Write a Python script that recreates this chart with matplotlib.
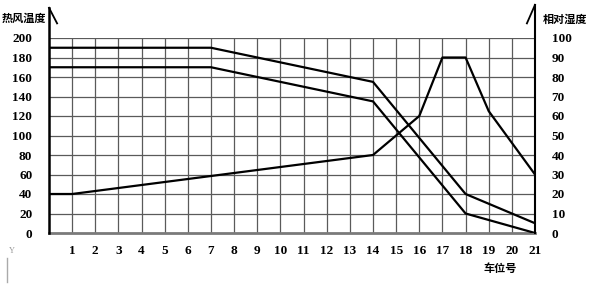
import matplotlib
matplotlib.use("Agg")
import matplotlib.pyplot as plt

plt.rcParams['font.family'] = ['Liberation Serif', 'Noto Sans CJK SC', 'DejaVu Sans']

# car positions and curve values
car_pos = list(range(1, 22))
hot_air_hi_x = [0, 7, 14, 18, 21]
hot_air_hi_y = [190, 190, 155, 40, 10]
hot_air_lo_x = [0, 7, 14, 18, 21]
hot_air_lo_y = [170, 170, 135, 20, 0]
humid_x = [0, 1, 14, 16, 17, 18, 19, 21]
humid_y = [20, 20, 40, 60, 90, 90, 62.5, 30]

temp_ticks = list(range(0, 201, 20))
humid_ticks = list(range(0, 101, 10))

fig = plt.figure(figsize=(6, 2.9), dpi=100)
ax = fig.add_axes([49 / 600, 1 - 233 / 290, (535 - 49) / 600, (233 - 38) / 290])
ax2 = ax.twinx()

grid_c = '#5a5a5a'
for v in temp_ticks[1:]:
    ax.axhline(v, color=grid_c, lw=0.9, zorder=1)
for v in car_pos[:-1]:
    ax.axvline(v, color=grid_c, lw=0.9, zorder=1)

ax.plot(hot_air_hi_x, hot_air_hi_y, color='black', lw=1.6, zorder=3)
ax.plot(hot_air_lo_x, hot_air_lo_y, color='black', lw=1.6, zorder=3)
ax2.plot(humid_x, humid_y, color='black', lw=1.6, zorder=3)

ax.set_xlim(0, 21)
ax.set_ylim(0, 200)
ax2.set_ylim(0, 100)

ax.set_xticks(car_pos)
ax.set_xticklabels([str(c) for c in car_pos], fontweight='bold')
ax.set_yticks(temp_ticks)
ax.set_yticklabels([str(t) for t in temp_ticks], fontweight='bold')
ax2.set_yticks(humid_ticks)
ax2.set_yticklabels([str(t) for t in humid_ticks], fontweight='bold')
ax.tick_params(axis='both', length=0, labelsize=9.5)
ax.tick_params(axis='y', pad=12)
ax.tick_params(axis='x', pad=9)
ax2.tick_params(axis='y', length=0, labelsize=9.5, pad=12)

for a in (ax, ax2):
    for s in ('top', 'left', 'right', 'bottom'):
        a.spines[s].set_visible(False)

# axis lines with the little slashes at the top
ax.plot([0, 0], [0, 231], color='black', lw=1.8, clip_on=False, zorder=4)
ax.plot([0, 0.35], [231, 215], color='black', lw=1.3, clip_on=False, zorder=4)
ax.plot([21, 21], [0, 234], color='black', lw=1.5, clip_on=False, zorder=4)
ax.plot([21, 20.65], [234, 215], color='black', lw=1.3, clip_on=False, zorder=4)
ax.plot([0, 21], [0, 0], color='#7a7a7a', lw=2, clip_on=False, zorder=2)

cjk = ['Noto Sans CJK SC', 'DejaVu Sans']
fig.text(24 / 600, 1 - 18 / 290, '热风温度', ha='center', va='center', fontsize=8,
         family=cjk, fontweight='bold')
fig.text(565 / 600, 1 - 19 / 290, '相对湿度', ha='center', va='center', fontsize=8,
         family=cjk, fontweight='bold')
fig.text(500 / 600, 1 - 268 / 290, '车位号', ha='center', va='center', fontsize=8,
         family=cjk, fontweight='bold')

# leftover CAD marker in the corner
fig.text(12 / 600, 1 - 251 / 290, 'Y', ha='center', va='center', fontsize=6, color='#999999')
fig.add_artist(plt.Line2D([7 / 600, 7 / 600], [1 - 258 / 290, 1 - 282 / 290],
                          color='#aaaaaa', lw=1))

fig.savefig('out.png', dpi=100)
